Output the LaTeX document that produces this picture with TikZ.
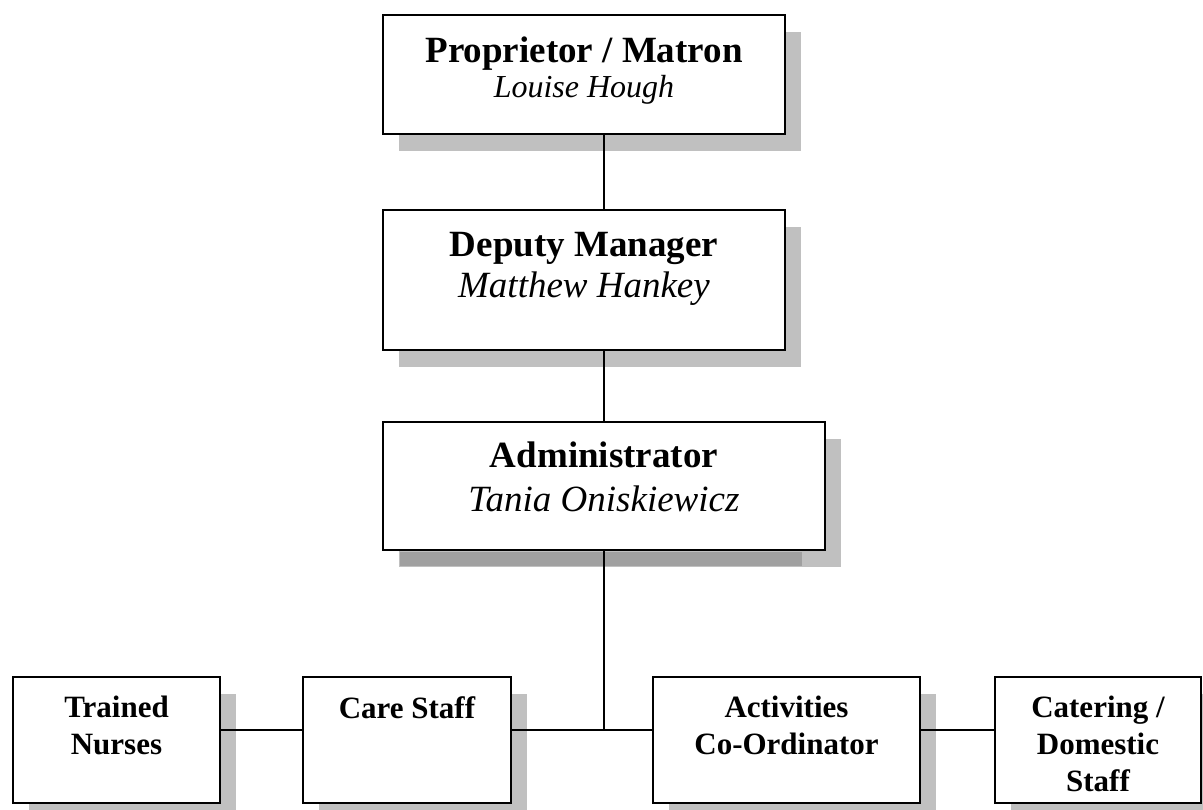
\documentclass[tikz,border=0pt]{standalone}
\usepackage{fontspec}
\setmainfont{Liberation Serif}
\usetikzlibrary{positioning,shadows}
\definecolor{shadowgray}{RGB}{192,192,192}
\definecolor{darkshadow}{RGB}{160,160,160}
\tikzset{
  box/.style={draw, fill=white, line width=1.7pt, inner sep=0pt,
    drop shadow={shadow xshift=16pt, shadow yshift=-17pt, fill=shadowgray, opacity=1}},
  head/.style={align=center, inner sep=0pt, font=\bfseries\fontsize{37}{#1}\selectfont},
  staff/.style={align=center, inner sep=0pt, font=\bfseries\fontsize{31}{37}\selectfont},
  link/.style={line width=1.7pt}
}
\begin{document}
\begin{tikzpicture}[x=1pt,y=-1pt]
  \useasboundingbox (0,0) rectangle (1203,810);
  % management
  \node[box, minimum width=402pt, minimum height=119pt] (prop) at (584,74.5) {};
  \node[box, minimum width=402pt, minimum height=140pt] (deputy) at (584,280) {};
  \node[box, minimum width=442pt, minimum height=128pt] (admin) at (604,486) {};
  \fill[darkshadow] (400,552) rectangle (802,566);
  \node[head=35, below=22pt of prop.north] (propt)
    {Proprietor / Matron\\ {\mdseries\itshape\fontsize{32}{35}\selectfont Louise Hough}};
  \node[head=41, below=23pt of deputy.north] (deputyt)
    {Deputy Manager\\ {\mdseries\itshape Matthew Hankey}};
  \node[head=44, below=20pt of admin.north] (admint)
    {Administrator\\ {\mdseries\itshape Tania Oniskiewicz}};
  % staff
  \node[box, minimum width=207pt, minimum height=126pt] (nurses) at (116.5,740) {};
  \node[box, minimum width=208pt, minimum height=126pt] (care) at (407,740) {};
  \node[box, minimum width=267pt, minimum height=126pt] (activ) at (786.5,740) {};
  \node[box, minimum width=206pt, minimum height=126pt] (cater) at (1098,740) {};
  \node[staff, below=20pt of nurses.north] (nursest) {Trained\\ Nurses};
  \node[staff, below=20pt of care.north] (caret) {Care Staff};
  \node[staff, below=20pt of activ.north] (activt) {Activities\\ Co-Ordinator};
  \node[staff, below=20pt of cater.north] (catert) {Catering /\\ Domestic\\ Staff};
  % lines
  \coordinate (bus) at (604,730);
  \draw[link] (prop.south -| admin.north) -- (deputy.north -| admin.north);
  \draw[link] (deputy.south -| admin.north) -- (admin.north);
  \draw[link] (admin.south) -- (bus);
  \draw[link] (care.east |- bus) -- (activ.west |- bus);
  \draw[link] (nurses.east |- bus) -- (care.west |- bus);
  \draw[link] (activ.east |- bus) -- (cater.west |- bus);
\end{tikzpicture}
\end{document}
